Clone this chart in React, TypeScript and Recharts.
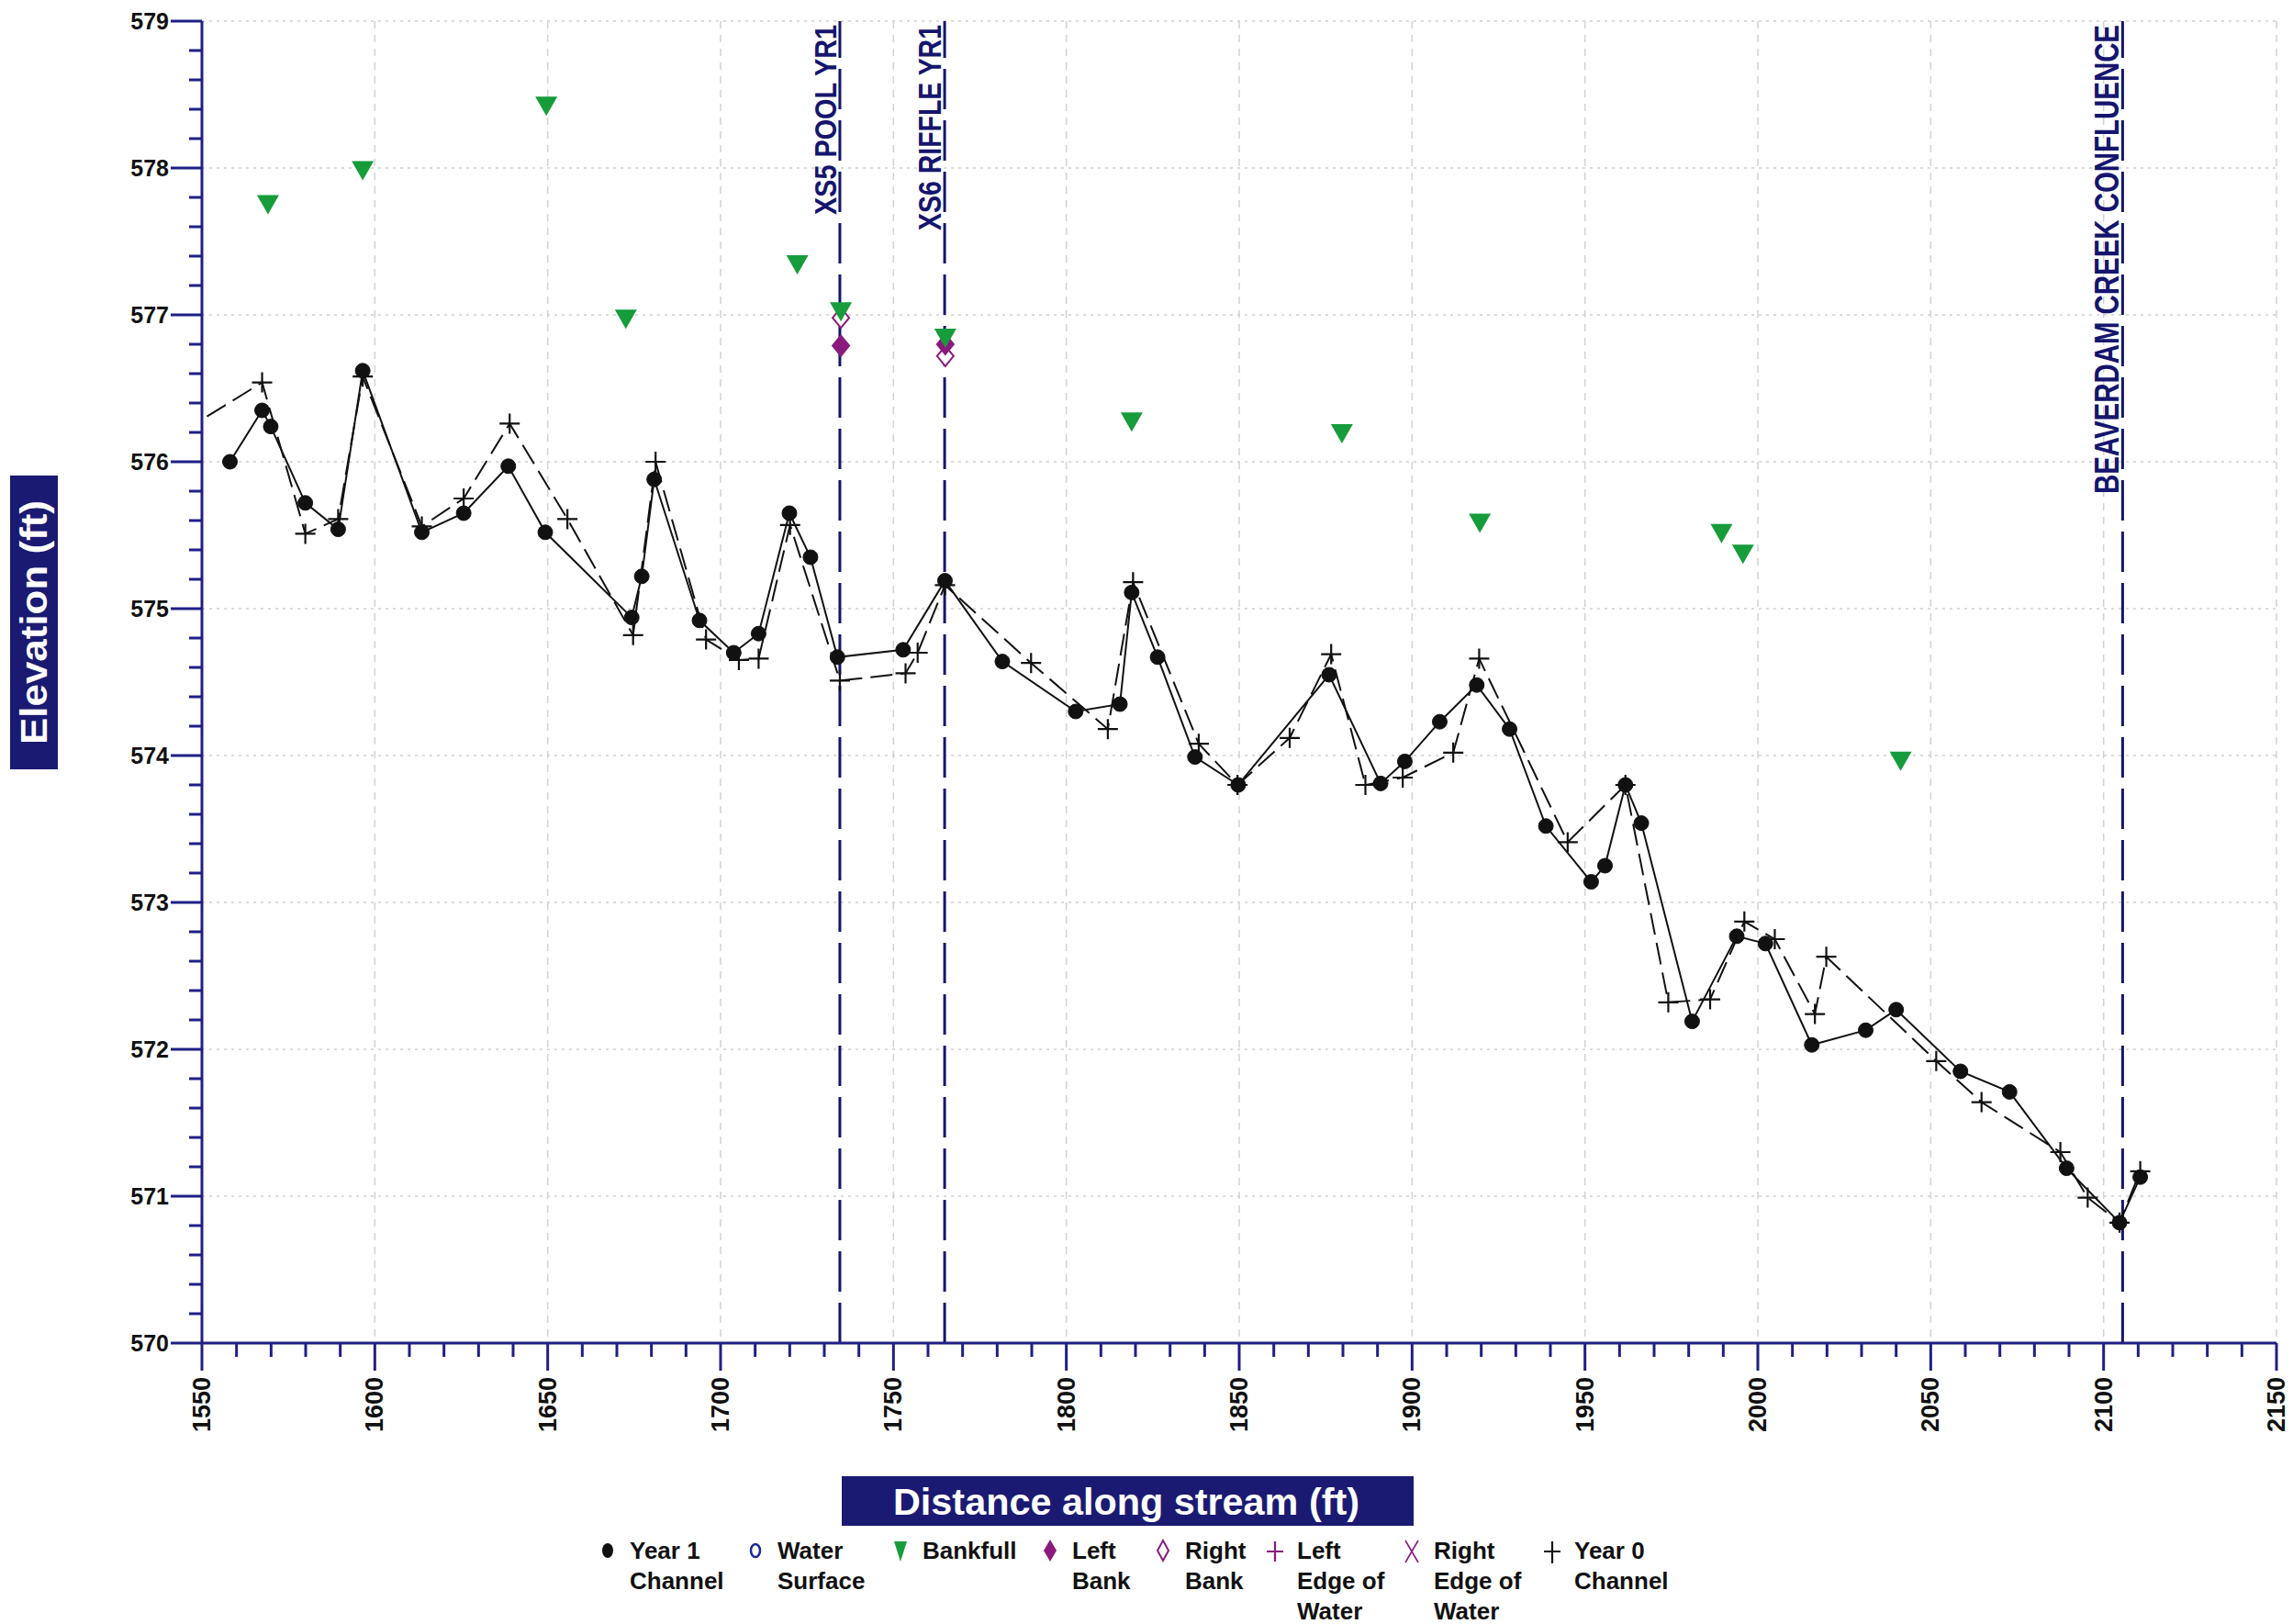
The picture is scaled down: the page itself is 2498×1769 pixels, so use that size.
import React from "react";
import {
  ComposedChart,
  Line,
  Scatter,
  XAxis,
  YAxis,
  CartesianGrid,
  ReferenceLine,
} from "recharts";

// values
const year1Distance = [
  1558.1, 1567.4, 1569.9, 1579.9, 1589.4, 1596.5, 1613.6, 1625.7, 1638.6, 1649.3,
  1674.3, 1677.2, 1680.8, 1693.9, 1703.8, 1711.0, 1719.9, 1726.0, 1733.8, 1752.8,
  1764.9, 1781.5, 1802.7, 1815.5, 1818.9, 1826.4, 1837.2, 1849.7, 1876.0, 1890.9,
  1897.9, 1908.0, 1918.7, 1928.2, 1938.7, 1951.8, 1955.8, 1961.7, 1966.3, 1981.0,
  1993.9, 2002.2, 2015.6, 2031.2, 2040.0, 2058.6, 2072.8, 2089.3, 2104.6, 2110.6,
];
const year1Elevation = [
  576.0, 576.35, 576.24, 575.72, 575.54, 576.62, 575.52, 575.65, 575.97, 575.52,
  574.94, 575.22, 575.88, 574.92, 574.7, 574.83, 575.65, 575.35, 574.67, 574.72,
  575.19, 574.64, 574.3, 574.35, 575.11, 574.67, 573.99, 573.8, 574.55, 573.81,
  573.96, 574.23, 574.48, 574.18, 573.52, 573.14, 573.25, 573.8, 573.54, 572.19,
  572.77, 572.72, 572.03, 572.13, 572.27, 571.85, 571.71, 571.19, 570.82, 571.13,
];

const year0Distance = [
  1544.0, 1567.4, 1579.9, 1589.4, 1596.5, 1613.6, 1625.7, 1639.0, 1655.7, 1674.7,
  1681.2, 1695.8, 1705.3, 1711.0, 1720.1, 1734.5, 1753.5, 1757.0, 1764.9, 1789.8,
  1812.0, 1819.3, 1838.3, 1849.5, 1864.6, 1876.6, 1886.5, 1897.3, 1911.9, 1919.4,
  1945.0, 1961.7, 1974.1, 1986.2, 1996.1, 2004.9, 2016.5, 2019.8, 2051.6, 2064.7,
  2087.5, 2095.4, 2104.6, 2110.6,
];
const year0Elevation = [
  576.2, 576.54, 575.51, 575.61, 576.58, 575.56, 575.75, 576.26, 575.61, 574.82,
  576.0, 574.79, 574.65, 574.66, 575.57, 574.51, 574.56, 574.7, 575.16, 574.63,
  574.18, 575.18, 574.08, 573.8, 574.12, 574.69, 573.8, 573.85, 574.02, 574.66,
  573.41, 573.8, 572.32, 572.34, 572.87, 572.75, 572.24, 572.63, 571.92, 571.64,
  571.3, 570.99, 570.82, 571.17,
];

const bankfullDistance = [
  1569.1, 1596.5, 1649.6, 1672.6, 1722.2, 1734.8, 1765.0, 1818.9, 1879.7, 1919.6,
  1989.5, 1995.7, 2041.3,
];
const bankfullElevation = [
  577.76, 577.99, 578.43, 576.98, 577.35, 577.03, 576.85, 576.28, 576.2, 575.59,
  575.52, 575.38, 573.97,
];

const leftBankDistance = [1734.8, 1765.0];
const leftBankElevation = [576.79, 576.8];
const rightBankDistance = [1734.8, 1765.0];
const rightBankElevation = [576.98, 576.72];

const sectionLabels = ["XS5 POOL YR1", "XS6 RIFFLE YR1", "BEAVERDAM CREEK CONFLUENCE"];
const sectionDistances = [1734.5, 1764.8, 2105.5];

const xMajorTicks = [1550, 1600, 1650, 1700, 1750, 1800, 1850, 1900, 1950, 2000, 2050, 2100, 2150];
const yMajorTicks = [570, 571, 572, 573, 574, 575, 576, 577, 578, 579];

const legendLabels = [
  "Year 1\nChannel",
  "Water\nSurface",
  "Bankfull",
  "Left\nBank",
  "Right\nBank",
  "Left\nEdge of\nWater",
  "Right\nEdge of\nWater",
  "Year 0\nChannel",
];
const legendMarkers = ["dot", "ring", "triangle", "diamond", "openDiamond", "plusPurple", "cross", "plus"];

// layout only: horizontal centre of each legend symbol, label lengths and font sizes
const legendIconCentres = [662, 823, 981, 1144, 1267, 1389, 1538, 1691];
const sectionLabelLengths = [207, 224, 511];
const sectionLabelSizes = [26.5, 27.5, 29];

const toPoints = (xs: number[], ys: number[]) => xs.map((x, i) => ({ x, y: ys[i] }));

const year1Data = toPoints(year1Distance, year1Elevation);
const year0Data = toPoints(year0Distance, year0Elevation);
const bankfullData = toPoints(bankfullDistance, bankfullElevation);
const leftBankData = toPoints(leftBankDistance, leftBankElevation);
const rightBankData = toPoints(rightBankDistance, rightBankElevation);

// minor ticks: every 10 ft along x, every 0.2 ft along y
const xTicks: number[] = [];
for (let i = 0; i <= 60; i++) xTicks.push(1550 + i * 10);
const yTicks: number[] = [];
for (let i = 0; i <= 45; i++) yTicks.push((5700 + i * 2) / 10);

const NAVY = "#1f1f86";
const REF_NAVY = "#15156e";
const GREEN = "#169c3b";
const PURPLE = "#8a1a7c";
const FONT = "'Liberation Sans', Arial, sans-serif";

const YTick = (props: any) => {
  const { x, y, payload } = props;
  const v = payload.value;
  const major = Math.abs(v - Math.round(v)) < 1e-6;
  const len = major ? 34 : 14;
  return (
    <g>
      <line x1={x} y1={y} x2={x - len} y2={y} stroke={NAVY} strokeWidth={3} />
      {major && (
        <text
          x={x - 36}
          y={y}
          textAnchor="end"
          dominantBaseline="central"
          fontFamily={FONT}
          fontWeight="bold"
          fontSize={25}
          fill="#111"
        >
          {Math.round(v)}
        </text>
      )}
    </g>
  );
};

const XTick = (props: any) => {
  const { x, y, payload } = props;
  const v = payload.value;
  const major = v % 50 === 0;
  const len = major ? 30 : 15;
  return (
    <g>
      <line x1={x} y1={y} x2={x} y2={y + len} stroke={NAVY} strokeWidth={3} />
      {major && (
        <text
          x={x}
          y={y + 37}
          transform={`rotate(-90, ${x}, ${y + 37})`}
          textAnchor="end"
          dominantBaseline="central"
          fontFamily={FONT}
          fontWeight="bold"
          fontSize={27}
          fill="#111"
        >
          {v}
        </text>
      )}
    </g>
  );
};

const PlusDot = (props: any) => {
  const { cx, cy } = props;
  if (cx == null || cy == null) return <g />;
  return (
    <path
      d={`M${cx - 11},${cy}H${cx + 11}M${cx},${cy - 11}V${cy + 11}`}
      stroke="#111"
      strokeWidth={2.2}
      fill="none"
    />
  );
};

const TriangleShape = (props: any) => {
  const { cx, cy } = props;
  return (
    <path
      d={`M${cx - 12},${cy - 9}L${cx + 12},${cy - 9}L${cx},${cy + 12}Z`}
      fill={GREEN}
    />
  );
};

const DiamondShape = (props: any) => {
  const { cx, cy, open } = props;
  return (
    <path
      d={`M${cx},${cy - 11}L${cx + 9},${cy}L${cx},${cy + 11}L${cx - 9},${cy}Z`}
      fill={open ? "#fff" : PURPLE}
      stroke={PURPLE}
      strokeWidth={2}
    />
  );
};

// vertical label to the left of a cross-section line, reading bottom to top
const SectionLabel = (props: any) => {
  const { viewBox, text, length, size } = props;
  const x = viewBox.x - 4;
  const y = viewBox.y + 4 + length;
  return (
    <text
      x={0}
      y={0}
      transform={`translate(${x}, ${y}) rotate(-90) scale(1, 1.25)`}
      textAnchor="start"
      fontFamily={FONT}
      fontWeight="bold"
      fontSize={size}
      fill={REF_NAVY}
      textLength={length}
      lengthAdjust="spacingAndGlyphs"
    >
      {text}
    </text>
  );
};

const YTitle = (props: any) => {
  const vb = props.viewBox;
  const cx = vb.x + 37;
  const cy = vb.y + 655;
  return (
    <g>
      <rect x={vb.x + 11} y={vb.y + 495} width={52} height={320} fill="#1b1a72" />
      <text
        x={cx}
        y={cy}
        transform={`rotate(-90, ${cx}, ${cy})`}
        textAnchor="middle"
        dominantBaseline="central"
        fontFamily={FONT}
        fontWeight="bold"
        fontSize={40}
        fill="#fff"
        textLength={266}
        lengthAdjust="spacingAndGlyphs"
      >
        Elevation (ft)
      </text>
    </g>
  );
};

const XTitle = (props: any) => {
  const vb = props.viewBox;
  return (
    <g>
      <rect x={vb.x + 697} y={vb.y + 145} width={623} height={54} fill="#1b1a72" />
      <text
        x={vb.x + 1007}
        y={vb.y + 173}
        textAnchor="middle"
        dominantBaseline="central"
        fontFamily={FONT}
        fontWeight="bold"
        fontSize={40}
        fill="#fff"
        textLength={508}
        lengthAdjust="spacingAndGlyphs"
      >
        Distance along stream (ft)
      </text>
    </g>
  );
};

const LegendIcon = ({ kind }: { kind: string }) => {
  let shape: React.ReactNode = null;
  if (kind === "dot") shape = <ellipse cx={12} cy={16} rx={6} ry={8} fill="#111" />;
  if (kind === "ring") shape = <ellipse cx={12} cy={16} rx={5} ry={7} fill="none" stroke="#1c2a9c" strokeWidth={2.5} />;
  if (kind === "triangle") shape = <path d="M5,6L19,6L12,28Z" fill={GREEN} />;
  if (kind === "diamond") shape = <path d="M12,4L19,16L12,28L5,16Z" fill={PURPLE} />;
  if (kind === "openDiamond") shape = <path d="M12,5L18,16L12,27L6,16Z" fill="none" stroke={PURPLE} strokeWidth={2} />;
  if (kind === "plusPurple") shape = <path d="M3,17H21M12,6V28" stroke={PURPLE} strokeWidth={2.2} />;
  if (kind === "cross") shape = <path d="M5,5L19,29M19,5L5,29" stroke={PURPLE} strokeWidth={1.6} />;
  if (kind === "plus") shape = <path d="M3,17H21M12,6V30" stroke="#111" strokeWidth={2.2} />;
  return (
    <svg width={24} height={33} style={{ position: "absolute", left: -12, top: 0 }}>
      {shape}
    </svg>
  );
};

export default function App() {
  return (
    <div
      style={{
        position: "absolute",
        left: 0,
        top: 0,
        width: 2498,
        height: 1769,
        background: "#fff",
        overflow: "hidden",
      }}
    >
      <ComposedChart
        width={2498}
        height={1769}
        margin={{ top: 23, right: 18, bottom: 0, left: 0 }}
      >
        <CartesianGrid
          horizontal={true}
          vertical={false}
          horizontalValues={yMajorTicks}
          stroke="#cfcfcf"
          strokeWidth={1.5}
          strokeDasharray="3 5"
        />
        <CartesianGrid
          horizontal={false}
          vertical={true}
          verticalValues={xMajorTicks}
          stroke="#d2d2d2"
          strokeWidth={1.5}
          strokeDasharray="8 7"
        />
        <XAxis
          type="number"
          dataKey="x"
          domain={[1550, 2150]}
          ticks={xTicks}
          interval={0}
          allowDataOverflow
          height={306}
          tickSize={0}
          tickMargin={0}
          tickLine={false}
          axisLine={{ stroke: NAVY, strokeWidth: 3 }}
          tick={<XTick />}
          label={{ content: (p: any) => <XTitle {...p} /> }}
        />
        <YAxis
          type="number"
          dataKey="y"
          domain={[570, 579]}
          ticks={yTicks}
          interval={0}
          width={220}
          tickSize={0}
          tickMargin={0}
          tickLine={false}
          axisLine={{ stroke: NAVY, strokeWidth: 3 }}
          tick={<YTick />}
          label={{ content: (p: any) => <YTitle {...p} /> }}
        />
        {sectionDistances.map((d, i) => (
          <ReferenceLine
            key={sectionLabels[i]}
            x={d}
            stroke={REF_NAVY}
            strokeWidth={3}
            strokeDasharray="44 12"
            label={{
              content: (p: any) => (
                <SectionLabel
                  {...p}
                  text={sectionLabels[i]}
                  length={sectionLabelLengths[i]}
                  size={sectionLabelSizes[i]}
                />
              ),
            }}
          />
        ))}
        <Line
          data={year0Data}
          dataKey="y"
          name="Year 0 Channel"
          stroke="#111"
          strokeWidth={2}
          strokeDasharray="24 9"
          dot={(p: any) => <PlusDot key={`p${p.index}`} {...p} />}
          activeDot={false}
          isAnimationActive={false}
        />
        <Line
          data={year1Data}
          dataKey="y"
          name="Year 1 Channel"
          stroke="#111"
          strokeWidth={2}
          dot={{ r: 8, fill: "#111", stroke: "#111", strokeWidth: 1 }}
          activeDot={false}
          isAnimationActive={false}
        />
        <Scatter
          data={rightBankData}
          name="Right Bank"
          shape={(p: any) => <DiamondShape {...p} open />}
          isAnimationActive={false}
        />
        <Scatter
          data={leftBankData}
          name="Left Bank"
          shape={(p: any) => <DiamondShape {...p} />}
          isAnimationActive={false}
        />
        <Scatter
          data={bankfullData}
          name="Bankfull"
          shape={(p: any) => <TriangleShape {...p} />}
          isAnimationActive={false}
        />
      </ComposedChart>
      <div
        style={{
          position: "absolute",
          left: 0,
          top: 1673,
          width: 2498,
          height: 96,
          fontFamily: FONT,
          fontWeight: "bold",
          fontSize: 26,
          lineHeight: "33px",
          color: "#111",
        }}
      >
        {legendLabels.map((label, i) => (
          <div
            key={label}
            style={{ position: "absolute", left: legendIconCentres[i], top: 0 }}
          >
            <LegendIcon kind={legendMarkers[i]} />
            <div style={{ whiteSpace: "pre", marginLeft: 24 }}>{label}</div>
          </div>
        ))}
      </div>
    </div>
  );
}
